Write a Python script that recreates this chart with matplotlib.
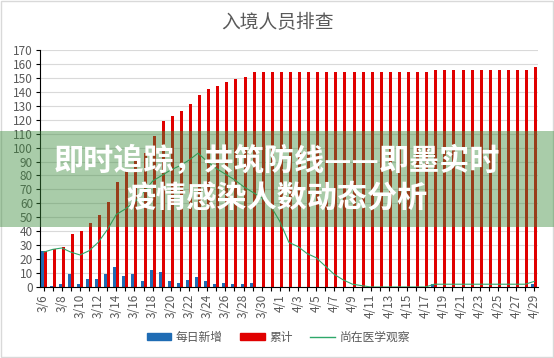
import numpy as np
import pandas as pd
import matplotlib
matplotlib.use('Agg')
import matplotlib.pyplot as plt
from matplotlib.patches import Rectangle
from matplotlib.lines import Line2D

plt.rcParams['font.family'] = ['Noto Sans CJK SC', 'DejaVu Sans']

# 3/6 .. 4/29
dates = pd.date_range('2020-03-06', '2020-04-29')
labels = [f'{d.month}/{d.day}' for d in dates]

daily = [26, 1, 2, 9, 2, 6, 6, 9, 14, 8, 9, 4, 12, 11, 4, 3, 5, 7, 4, 2, 3, 2, 2, 3] \
    + [0] * 19 + [2] + [0] * 10 + [2]
total = [26, 27, 29, 38, 40, 46, 52, 61, 75, 83, 92, 96, 108, 119, 123, 126, 131, 138,
         142, 144, 147, 149, 151, 154] + [154] * 19 + [156] * 11 + [158]
observe = [25, 27, 28, 25, 23, 26, 32, 41, 52, 56, 61, 68, 76, 80, 84, 87, 91, 96, 90, 85,
           81, 77, 72, 68, 64, 58, 47, 32, 29, 24, 21, 15, 9, 5, 2, 1] \
    + [0] * 7 + [2] * 11 + [4]

blue = '#1f6cb4'
red = '#e00000'
green = '#2ea86a'
grey = '#595959'

fig = plt.figure(figsize=(5.54, 3.58), dpi=100)
ax = fig.add_axes([0.0722, 0.1983, 0.8995, 0.662])

x = np.arange(len(labels))
w = 0.33
ax.bar(x - w / 2, daily, width=w, color=blue, zorder=2)
ax.bar(x + w / 2, total, width=w, color=red, zorder=2)
ax.plot(x, observe, color=green, lw=0.8, zorder=3)

ax.set_xlim(-0.4, 54.45)
ax.set_ylim(0, 170)
ax.set_yticks(range(0, 171, 10))
ax.grid(axis='y', color='#d9d9d9', lw=0.8, zorder=0)
ax.set_axisbelow(True)

ax.set_xticks(x)
ax.set_xticklabels([l if i % 2 == 0 else '' for i, l in enumerate(labels)], rotation=90)
ax.tick_params(axis='x', length=3, width=0.8, colors='black', labelcolor=grey,
               labelsize=8.5, pad=2)
ax.tick_params(axis='y', length=3, width=0.8, colors='black', labelcolor=grey,
               labelsize=8.5, pad=2)
for s in ['top', 'right']:
    ax.spines[s].set_visible(False)
ax.spines['left'].set_linewidth(0.8)
ax.spines['bottom'].set_linewidth(0.8)

fig.text(0.5, 1 - 23 / 358, '入境人员排查', ha='center', va='center', fontsize=13.5, color=grey)

handles = [Rectangle((0, 0), 1, 1, color=blue),
           Rectangle((0, 0), 1, 1, color=red),
           Line2D([0], [0], color=green, lw=1)]
fig.legend(handles, ['每日新增', '累计', '尚在医学观察'], loc='center',
           bbox_to_anchor=(0.502, 1 - 337 / 358), ncol=3, frameon=False, fontsize=8.5,
           handlelength=2.1, handleheight=0.5, columnspacing=1.5,
           handletextpad=0.35, labelcolor=grey)

# green banner with headline
fig.patches.append(Rectangle((0, 1 - 227 / 358), 1, 96 / 358, transform=fig.transFigure,
                             facecolor='#3c8c3c', alpha=0.44, edgecolor='none', zorder=5))
fig.text(0.5, 1 - 161 / 358, '即时追踪，共筑防线——即墨实时', ha='center', va='center',
         fontsize=21.7, fontweight='bold', color='white', zorder=6)
fig.text(0.5, 1 - 198 / 358, '疫情感染人数动态分析', ha='center', va='center',
         fontsize=21.7, fontweight='bold', color='white', zorder=6)

fig.patches.append(Rectangle((0.002, 0.003), 0.996, 0.994, transform=fig.transFigure,
                             facecolor='none', edgecolor='#d9d9d9', lw=1))

fig.savefig('out.png', dpi=100)
